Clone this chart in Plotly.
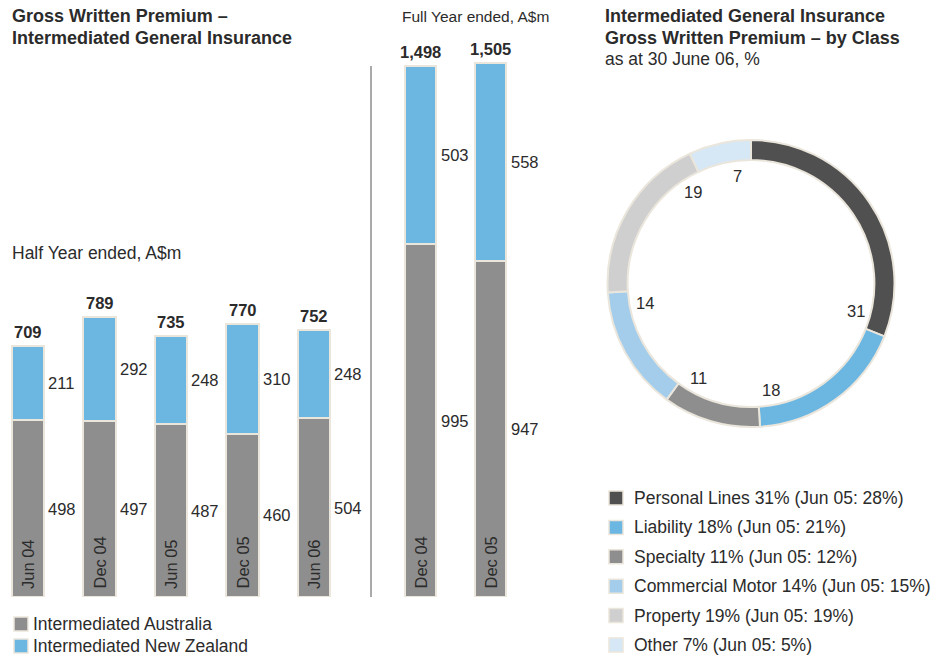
import math
import plotly.graph_objects as go

# half year bars
half_periods = ["Jun 04", "Dec 04", "Jun 05", "Dec 05", "Jun 06"]
half_aus = [498, 497, 487, 460, 504]
half_nz = [211, 292, 248, 310, 248]
half_total = [709, 789, 735, 770, 752]

# full year bars
full_periods = ["Dec 04", "Dec 05"]
full_aus = [995, 947]
full_nz = [503, 558]
full_total = [1498, 1505]

# donut by class
classes = ["Personal Lines", "Liability", "Specialty", "Commercial Motor", "Property", "Other"]
class_pct = [31, 18, 11, 14, 19, 7]
class_pct_jun05 = [28, 21, 12, 15, 19, 5]

W, H = 944, 656
FONT = "Liberation Sans, Arial, sans-serif"
TXT = "#2b2b2b"
GREY = "#8e8e8e"
BLUE = "#6cb6e2"
EDGE = "#ebe6dc"
class_colors = ["#505050", "#6cb6e2", "#8e8e8e", "#a3cdeb", "#cfcfcf", "#d6e8f5"]


def X(px):
    return px / W


def Y(py):
    return 1 - py / H


fig = go.Figure()

bar_w = 0.45
fig.add_trace(go.Bar(x=half_periods, y=half_aus, name="Intermediated Australia",
                     marker=dict(color=GREY, line=dict(color=EDGE, width=2)),
                     width=bar_w, xaxis="x", yaxis="y"))
fig.add_trace(go.Bar(x=half_periods, y=half_nz, name="Intermediated New Zealand",
                     marker=dict(color=BLUE, line=dict(color=EDGE, width=2)),
                     width=bar_w, xaxis="x", yaxis="y"))
fig.add_trace(go.Bar(x=full_periods, y=full_aus, name="Intermediated Australia",
                     marker=dict(color=GREY, line=dict(color=EDGE, width=2)),
                     width=bar_w, xaxis="x2", yaxis="y"))
fig.add_trace(go.Bar(x=full_periods, y=full_nz, name="Intermediated New Zealand",
                     marker=dict(color=BLUE, line=dict(color=EDGE, width=2)),
                     width=bar_w, xaxis="x2", yaxis="y"))

# donut
pie_dom_x = [X(604), X(898)]
pie_dom_y = [Y(427), Y(140)]
fig.add_trace(go.Pie(labels=classes, values=class_pct, sort=False, direction="clockwise",
                     rotation=0, hole=0.86, textinfo="none", hoverinfo="label+value",
                     marker=dict(colors=class_colors, line=dict(color=EDGE, width=2)),
                     domain=dict(x=pie_dom_x, y=pie_dom_y)))

ann = []


def text(px, py, s, size=17.5, bold=False, xa="left", ya="middle"):
    ann.append(dict(x=px, y=py, xref="paper", yref="paper", text=f"<b>{s}</b>" if bold else s,
                    showarrow=False, xanchor=xa, yanchor=ya,
                    font=dict(family=FONT, size=size, color=TXT)))


# bar value labels
for xr, cats, aus, nz, tot in [("x", half_periods, half_aus, half_nz, half_total),
                               ("x2", full_periods, full_aus, full_nz, full_total)]:
    for c, a, n, t in zip(cats, aus, nz, tot):
        for y, v in [(a / 2, a), (a + n / 2, n)]:
            ann.append(dict(x=c, y=y, xref=xr, yref="y", text=str(v), showarrow=False,
                            xanchor="left", yanchor="middle", xshift=18,
                            font=dict(family=FONT, size=16.5, color=TXT)))
        ann.append(dict(x=c, y=t, xref=xr, yref="y", text=f"<b>{t:,}</b>", showarrow=False,
                        xanchor="center", yanchor="bottom", yshift=3,
                        font=dict(family=FONT, size=16.5, color=TXT)))
        ann.append(dict(x=c, y=0, xref=xr, yref="y", text=c, showarrow=False,
                        xanchor="center", yanchor="bottom", yshift=6, textangle=-90,
                        font=dict(family=FONT, size=16.5, color=TXT)))

# donut labels
cx = (pie_dom_x[0] + pie_dom_x[1]) / 2 * W
cy = (1 - (pie_dom_y[0] + pie_dom_y[1]) / 2) * H
r_lab = 108
cum = 0
for v in class_pct:
    cum += v
    a = math.radians(cum / sum(class_pct) * 360 - 7)
    text(X(cx + r_lab * math.sin(a)), Y(cy - r_lab * math.cos(a)), str(v), size=16.5, xa="center")

# titles
text(X(10), Y(16), "Gross Written Premium –", size=18, bold=True)
text(X(10), Y(38), "Intermediated General Insurance", size=18, bold=True)
text(X(10), Y(253), "Half Year ended, A$m")
text(X(400), Y(16), "Full Year ended, A$m", size=15.5)
text(X(603), Y(16), "Intermediated General Insurance", size=18, bold=True)
text(X(603), Y(38), "Gross Written Premium – by Class", size=18, bold=True)
text(X(603), Y(59), "as at 30 June 06, %")

shapes = [dict(type="line", xref="paper", yref="paper", x0=X(371), x1=X(371), y0=Y(66), y1=Y(597),
               line=dict(color="#555555", width=1))]

# bar legend
for i, (name, col) in enumerate([("Intermediated Australia", GREY), ("Intermediated New Zealand", BLUE)]):
    yc = 624 + 22 * i
    shapes.append(dict(type="rect", xref="paper", yref="paper", x0=X(14), x1=X(28), y0=Y(yc - 7), y1=Y(yc + 7),
                       fillcolor=col, line=dict(color=EDGE, width=1.5)))
    text(X(31), Y(yc), name)

# donut legend
for i, (name, v, v5, col) in enumerate(zip(classes, class_pct, class_pct_jun05, class_colors)):
    yc = 498 + 29.4 * i
    shapes.append(dict(type="rect", xref="paper", yref="paper", x0=X(609), x1=X(623), y0=Y(yc - 7), y1=Y(yc + 7),
                       fillcolor=col, line=dict(color=EDGE, width=1.5)))
    text(X(632), Y(yc), f"{name} {v}% (Jun 05: {v5}%)")

y_scale = 0.3545
fig.update_layout(
    width=W, height=H,
    margin=dict(l=0, r=0, t=0, b=0),
    paper_bgcolor="white", plot_bgcolor="white",
    barmode="stack",
    showlegend=False,
    xaxis=dict(domain=[0, X(360)], range=[-0.392, 4.643], visible=False, anchor="y"),
    xaxis2=dict(domain=[X(380), X(560)], range=[-0.579, 1.993], visible=False, anchor="y"),
    yaxis=dict(domain=[Y(597), Y(40)], range=[0, (597 - 40) / y_scale], visible=False),
    annotations=ann,
    shapes=shapes,
)

fig.write_html("out.html", config={"displayModeBar": False},
               post_script="document.body.style.margin='0';")
